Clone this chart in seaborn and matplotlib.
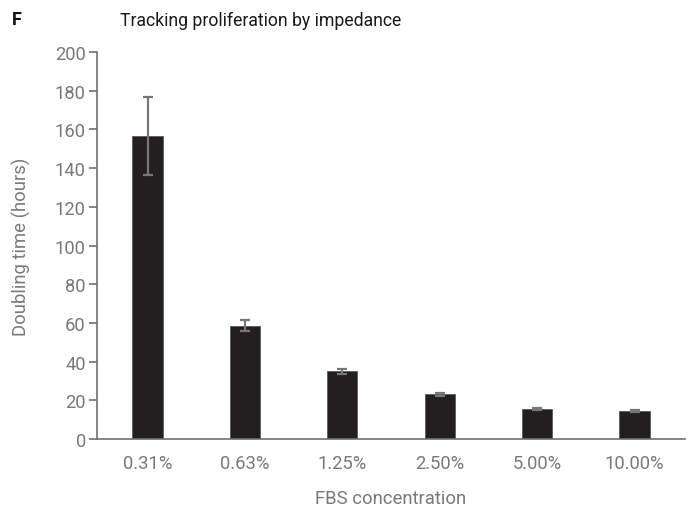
import matplotlib
matplotlib.use("Agg")
import matplotlib.pyplot as plt
import seaborn as sns
import pandas as pd

# Doubling time of cells grown at each FBS concentration
concentrations = ["0.31%", "0.63%", "1.25%", "2.50%", "5.00%", "10.00%"]
doubling_hours = [156.8, 58.6, 35.0, 23.1, 15.8, 14.3]
error_hours = [20.2, 2.9, 1.3, 0.7, 0.5, 0.5]
y_ticks = [0, 20, 40, 60, 80, 100, 120, 140, 160, 180, 200]

sns.set_theme(style="white")
plt.rcParams["font.family"] = ["Roboto", "DejaVu Sans"]

grey_text = "#77797c"
axis_grey = "#6f7175"
bar_color = "#231f20"
err_grey = "#75777a"

df = pd.DataFrame({"FBS": concentrations, "hours": doubling_hours})

fig = plt.figure(figsize=(6.97, 5.10), dpi=100)
ax = fig.add_axes([0.139, 0.137, 0.844, 0.759])

sns.barplot(data=df, x="FBS", y="hours", color=bar_color, width=0.31,
            errorbar=None, edgecolor="#5a5a5a", linewidth=0.6, ax=ax)
for patch in ax.patches:
    patch.set_facecolor(bar_color)

ax.errorbar(x=list(range(len(concentrations))), y=doubling_hours, yerr=error_hours,
            fmt="none", ecolor=err_grey, elinewidth=1.6, capsize=3.6, capthick=1.6,
            zorder=5)

ax.set_xlim(-0.52, len(concentrations) - 0.48)
ax.set_ylim(0, 200)
ax.set_yticks(y_ticks)

for side in ["top", "right"]:
    ax.spines[side].set_visible(False)
for side in ["left", "bottom"]:
    ax.spines[side].set_color(axis_grey)
    ax.spines[side].set_linewidth(1.2)

ax.tick_params(axis="y", which="both", left=True, length=6, width=1.2,
               color=axis_grey, labelcolor=grey_text, labelsize=13.2, pad=2)
ax.tick_params(axis="x", which="both", bottom=False, labelcolor=grey_text,
               labelsize=13.2, pad=5)

ax.set_xlabel("FBS concentration", color=grey_text, fontsize=13.3, labelpad=12)
ax.set_ylabel("Doubling time (hours)", color=grey_text, fontsize=13.3, labelpad=17)

fig.text(0.017, 0.96, "F", fontsize=13, fontweight="bold", color="#111111",
         va="center", ha="left")
fig.text(0.172, 0.958, "Tracking proliferation by impedance", fontsize=12.7,
         color="#1a1a1a", va="center", ha="left")

fig.savefig("out.png", dpi=100, facecolor="white")
